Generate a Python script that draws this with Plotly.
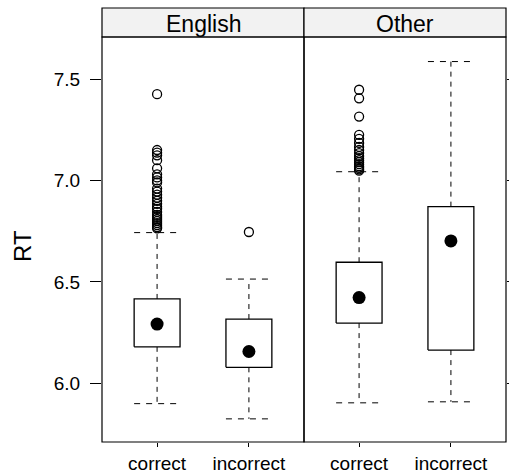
import plotly.graph_objects as go

# ---- data ----
categories = ["correct", "incorrect"]
groups = ["English", "Other"]

# five-number summaries: lower whisker, Q1, median, Q3, upper whisker
english_correct = [5.900, 6.180, 6.292, 6.416, 6.743]
english_incorrect = [5.825, 6.079, 6.157, 6.317, 6.514]
other_correct = [5.904, 6.297, 6.423, 6.597, 7.043]
other_incorrect = [5.909, 6.164, 6.702, 6.871, 7.586]

english_correct_out = [7.425, 7.150, 7.137, 7.124, 7.100, 7.060, 7.030, 7.015, 7.000,
                       6.990, 6.960, 6.945, 6.930, 6.915, 6.900, 6.885, 6.870, 6.860,
                       6.845, 6.830, 6.820, 6.810, 6.800, 6.790, 6.780, 6.770, 6.764]
english_incorrect_out = [6.746]
other_correct_out = [7.447, 7.405, 7.315, 7.225, 7.205, 7.185, 7.165, 7.150, 7.135,
                     7.120, 7.110, 7.100, 7.090, 7.080, 7.070, 7.062, 7.055, 7.048]
other_incorrect_out = []

y_ticks = [6.0, 6.5, 7.0, 7.5]
y_tick_labels = ["6.0", "6.5", "7.0", "7.5"]
y_range = [5.711, 7.707]

summaries = {
    "English": [english_correct, english_incorrect],
    "Other": [other_correct, other_incorrect],
}
outliers = {
    "English": [english_correct_out, english_incorrect_out],
    "Other": [other_correct_out, other_incorrect_out],
}

BOX_W = 0.5
FONT = "Liberation Sans, Arial, Helvetica, sans-serif"

fig = go.Figure()

for gi, g in enumerate(groups):
    xa = "x" if gi == 0 else "x2"
    ya = "y" if gi == 0 else "y2"
    for ci, cat in enumerate(categories):
        pos = ci + 1
        lo, q1, med, q3, hi = summaries[g][ci]
        h = BOX_W / 2
        # whiskers (dashed)
        fig.add_trace(go.Scatter(x=[pos, pos], y=[q3, hi], mode="lines",
                                 line=dict(color="black", width=1, dash="5px,5px"),
                                 xaxis=xa, yaxis=ya, showlegend=False, hoverinfo="skip"))
        fig.add_trace(go.Scatter(x=[pos, pos], y=[q1, lo], mode="lines",
                                 line=dict(color="black", width=1, dash="5px,5px"),
                                 xaxis=xa, yaxis=ya, showlegend=False, hoverinfo="skip"))
        # caps
        for v in (lo, hi):
            fig.add_trace(go.Scatter(x=[pos - h, pos + h], y=[v, v], mode="lines",
                                     line=dict(color="black", width=1, dash="6px,6px"),
                                     xaxis=xa, yaxis=ya, showlegend=False, hoverinfo="skip"))
        # box
        fig.add_trace(go.Scatter(x=[pos - h, pos + h, pos + h, pos - h, pos - h],
                                 y=[q1, q1, q3, q3, q1], mode="lines",
                                 line=dict(color="black", width=1.3),
                                 fill="toself", fillcolor="white",
                                 xaxis=xa, yaxis=ya, showlegend=False, hoverinfo="skip"))
        # median dot
        fig.add_trace(go.Scatter(x=[pos], y=[med], mode="markers",
                                 marker=dict(color="black", size=13),
                                 xaxis=xa, yaxis=ya, showlegend=False))
        # outliers
        outs = outliers[g][ci]
        if outs:
            fig.add_trace(go.Scatter(x=[pos] * len(outs), y=outs, mode="markers",
                                     marker=dict(symbol="circle-open", color="black", size=9,
                                                 line=dict(width=1.3)),
                                     xaxis=xa, yaxis=ya, showlegend=False))

W, H = 509, 475
def px_x(p):
    return p / W
def px_y(p):
    return 1 - p / H

left, mid, right = 102, 304, 506
top, bottom, strip_top = 37, 442, 8

xcommon = dict(range=[0.4, 2.6], tickvals=[1, 2], ticktext=categories,
               ticks="outside", ticklen=4, tickcolor="black", showgrid=False,
               zeroline=False, showline=False, automargin=False, fixedrange=True,
               ticklabelstandoff=0,
               tickfont=dict(family=FONT, size=19, color="black"))
fig.update_layout(
    template="none",
    width=W, height=H, margin=dict(l=0, r=0, t=0, b=0, pad=0, autoexpand=False),
    paper_bgcolor="white", plot_bgcolor="white",
    xaxis=dict(domain=[px_x(left), px_x(mid)], anchor="y", **xcommon),
    xaxis2=dict(domain=[px_x(mid), px_x(right)], anchor="y2", **xcommon),
    yaxis=dict(domain=[px_y(bottom), px_y(top)], range=y_range, anchor="x",
               tickvals=y_ticks, ticktext=y_tick_labels, ticks="outside", ticklen=11,
               tickcolor="black", ticklabelstandoff=6, showgrid=False, zeroline=False,
               showline=False, automargin=False,
               tickfont=dict(family=FONT, size=19, color="black")),
    yaxis2=dict(domain=[px_y(bottom), px_y(top)], range=y_range, anchor="x2",
                matches="y", side="right", tickvals=y_ticks, ticks="outside", ticklen=5,
                tickcolor="black", showticklabels=False, showgrid=False,
                zeroline=False, showline=False, automargin=False),
    showlegend=False,
)

shapes = []
for (x0, x1) in [(left, mid), (mid, right)]:
    # strip
    shapes.append(dict(type="rect", xref="paper", yref="paper",
                       x0=px_x(x0), x1=px_x(x1), y0=px_y(top), y1=px_y(strip_top),
                       fillcolor="#f2f2f2", line=dict(color="black", width=1.2),
                       layer="above"))
    # panel border
    shapes.append(dict(type="rect", xref="paper", yref="paper",
                       x0=px_x(x0), x1=px_x(x1), y0=px_y(bottom), y1=px_y(top),
                       line=dict(color="black", width=1.2), layer="above"))
fig.update_layout(shapes=shapes)

annotations = []
for (x0, x1), g in zip([(left, mid), (mid, right)], groups):
    annotations.append(dict(text=g, xref="paper", yref="paper",
                             x=px_x((x0 + x1) / 2), y=px_y((top + strip_top) / 2 + 1),
                             xanchor="center", yanchor="middle", showarrow=False,
                             font=dict(family=FONT, size=23, color="black")))
annotations.append(dict(text="RT", xref="paper", yref="paper", x=px_x(22), y=px_y(246),
                        xanchor="center", yanchor="middle", textangle=-90, showarrow=False,
                        font=dict(family=FONT, size=24, color="black")))
fig.update_layout(annotations=annotations)

fig.write_html("out.html", config={"displayModeBar": False},
               post_script="document.body.style.margin='0';document.body.style.padding='0';")
